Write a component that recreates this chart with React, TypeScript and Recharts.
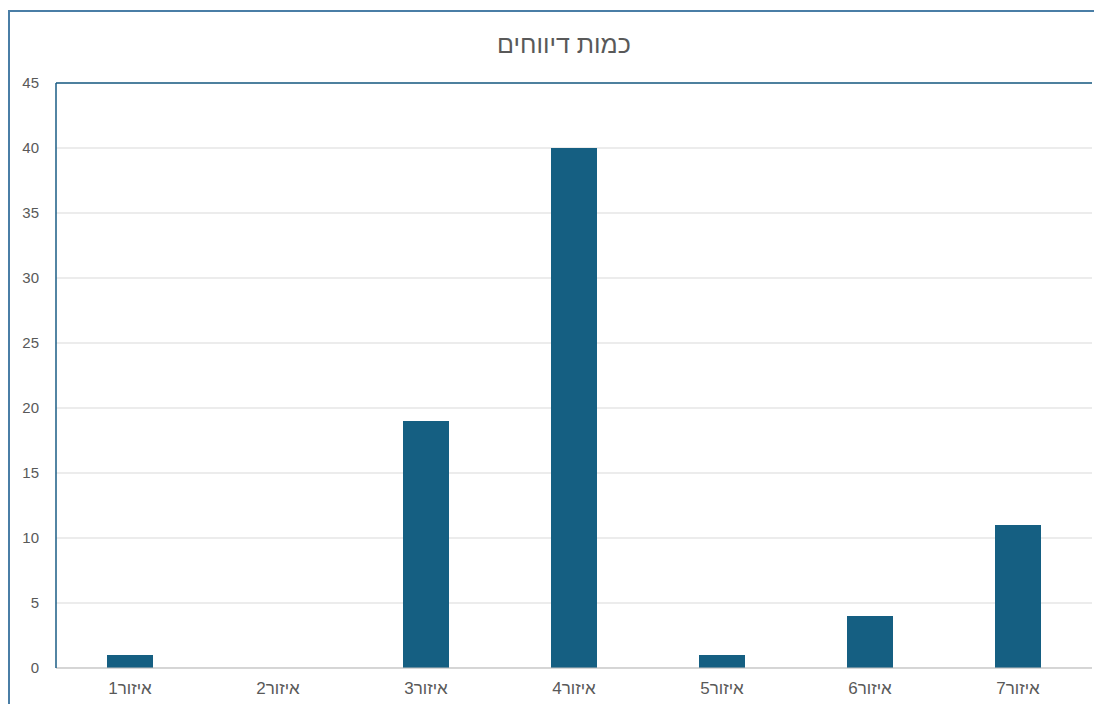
import React from "react";
import { BarChart, Bar, XAxis, YAxis, CartesianGrid, ReferenceLine } from "recharts";

const categories = ["איזור1", "איזור2", "איזור3", "איזור4", "איזור5", "איזור6", "איזור7"];
const reports = [1, 0, 19, 40, 1, 4, 11];
const yTicks = [0, 5, 10, 15, 20, 25, 30, 35, 40, 45];
const title = "כמות דיווחים";

const data = categories.map((name, i) => ({ name, value: reports[i] }));

const FONT = "'Liberation Sans', Arial, sans-serif";
const BAR = "#155f82";
const BORDER = "#1a5d84";

const XTick = (props: any) => {
  const { x, y, payload } = props;
  return (
    <text x={x} y={y} dy="0.71em" textAnchor="middle" direction="rtl" fill="#595959" fontSize={17} fontFamily={FONT}>
      {payload.value}
    </text>
  );
};

export default function App() {
  return (
    <div
      style={{
        position: "relative",
        marginTop: 2,
        width: 1094,
        height: 694,
        borderLeft: "2px solid #4a7ea6",
        borderTop: "2px solid #4a7ea6",
        boxSizing: "border-box",
        overflow: "hidden",
        background: "#fff",
      }}
    >
      <div
        style={{
          position: "absolute",
          left: 0,
          top: 18,
          width: 1108,
          textAlign: "center",
          fontFamily: FONT,
          fontSize: 25,
          color: "#595959",
          direction: "rtl",
          lineHeight: "28px",
        }}
      >
        {title}
      </div>
      <BarChart
        width={1092}
        height={692}
        data={data}
        margin={{ top: 71, right: 10, bottom: 6, left: 0 }}
        barSize={46}
      >
        <CartesianGrid vertical={false} stroke="#d9d9d9" strokeWidth={1} yAxisId="left" />
        <XAxis
          dataKey="name"
          height={30}
          tickLine={false}
          tickSize={0}
          tickMargin={14}
          axisLine={{ stroke: "#bfbfbf", strokeWidth: 1 }}
          tick={<XTick />}
          interval={0}
        />
        <YAxis
          yAxisId="left"
          width={46}
          domain={[0, 45]}
          ticks={yTicks}
          interval={0}
          tickLine={false}
          tickSize={0}
          tickMargin={17}
          axisLine={{ stroke: BORDER, strokeWidth: 1.5 }}
          tick={{ fill: "#595959", fontSize: 15, fontFamily: FONT }}
        />
        <YAxis
          yAxisId="right"
          orientation="right"
          width={0}
          domain={[0, 45]}
          ticks={yTicks}
          tick={false}
          tickLine={false}
          axisLine={{ stroke: BORDER, strokeWidth: 1.5 }}
        />
        <ReferenceLine yAxisId="left" y={45} stroke={BORDER} strokeWidth={1.5} />
        <Bar yAxisId="left" dataKey="value" fill={BAR} isAnimationActive={false} />
      </BarChart>
    </div>
  );
}
